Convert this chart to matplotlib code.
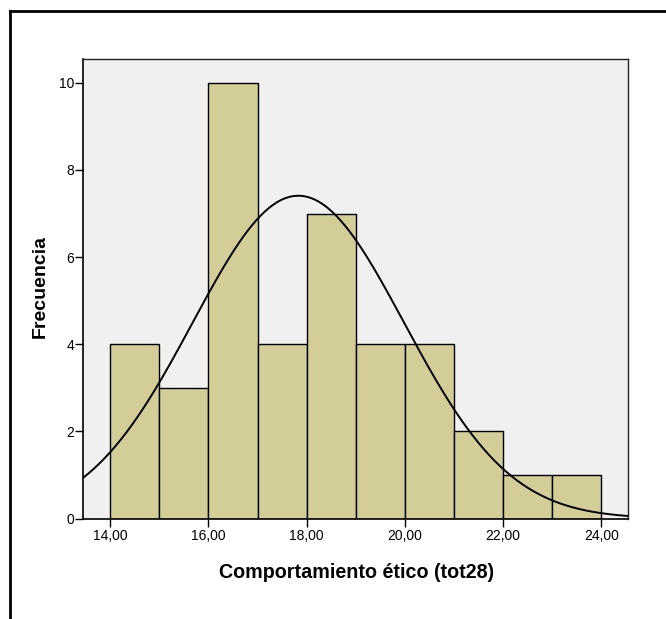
import numpy as np
import matplotlib
matplotlib.use("Agg")
import matplotlib.pyplot as plt
from matplotlib.lines import Line2D

plt.rcParams['font.family'] = ['Liberation Sans', 'DejaVu Sans']

# Histogram bins (left edges, width 1) and frequencies
bin_edges = [14, 15, 16, 17, 18, 19, 20, 21, 22, 23, 24]
frequencies = [4, 3, 10, 4, 7, 4, 4, 2, 1, 1]

# Fitted normal curve parameters
curve_mean = 17.83
curve_sd = 2.154
n_total = sum(frequencies)
bin_width = 1.0

x_ticks = [14, 16, 18, 20, 22, 24]
x_tick_labels = ["14,00", "16,00", "18,00", "20,00", "22,00", "24,00"]
y_ticks = [0, 2, 4, 6, 8, 10]

W, H = 666, 619
fig = plt.figure(figsize=(W / 100, H / 100), dpi=100)

left, right, top, bottom = 82.7, 628.3, 59.3, 518.5
ax = fig.add_axes([left / W, 1 - bottom / H, (right - left) / W, (bottom - top) / H])
ax.set_facecolor("#F0F0F0")

lefts = bin_edges[:-1]
ax.bar(lefts, frequencies, width=bin_width, align="edge",
       color="#D3CE97", edgecolor="black", linewidth=1.0, zorder=2)

xs = np.linspace(13.438, 24.55, 400)
ys = n_total * bin_width / (curve_sd * np.sqrt(2 * np.pi)) * np.exp(-0.5 * ((xs - curve_mean) / curve_sd) ** 2)
ax.plot(xs, ys, color="black", linewidth=1.4, zorder=3)

ax.set_xlim(13.438, 24.55)
ax.set_ylim(0, 10.54)
ax.set_xticks(x_ticks)
ax.set_xticklabels(x_tick_labels)
ax.set_yticks(y_ticks)
ax.tick_params(axis="both", direction="out", length=5.5, width=1.0, color="black",
               labelsize=10)
ax.tick_params(axis="y", pad=0.8)
ax.tick_params(axis="x", pad=2.0)

for side in ["left", "bottom"]:
    ax.spines[side].set_linewidth(1.2)
    ax.spines[side].set_color("black")
for side in ["top", "right"]:
    ax.spines[side].set_linewidth(1.0)
    ax.spines[side].set_color("#222222")

fig.text(357 / W, 1 - 578 / H, "Comportamiento ético (tot28)", ha="center", va="baseline",
         fontsize=14.2, fontweight="bold")
fig.text(48.5 / W, 1 - 287 / H, "Frecuencia", ha="right", va="center",
         rotation=90, fontsize=14, fontweight="bold")

# Outer frame lines (left and top)
fig.add_artist(Line2D([10.5 / W, 10.5 / W], [0, 1 - 11 / H], transform=fig.transFigure,
                      color="black", linewidth=2))
fig.add_artist(Line2D([10.5 / W, 1], [1 - 11 / H, 1 - 11 / H], transform=fig.transFigure,
                      color="black", linewidth=2))

fig.savefig("out.png", dpi=100)
